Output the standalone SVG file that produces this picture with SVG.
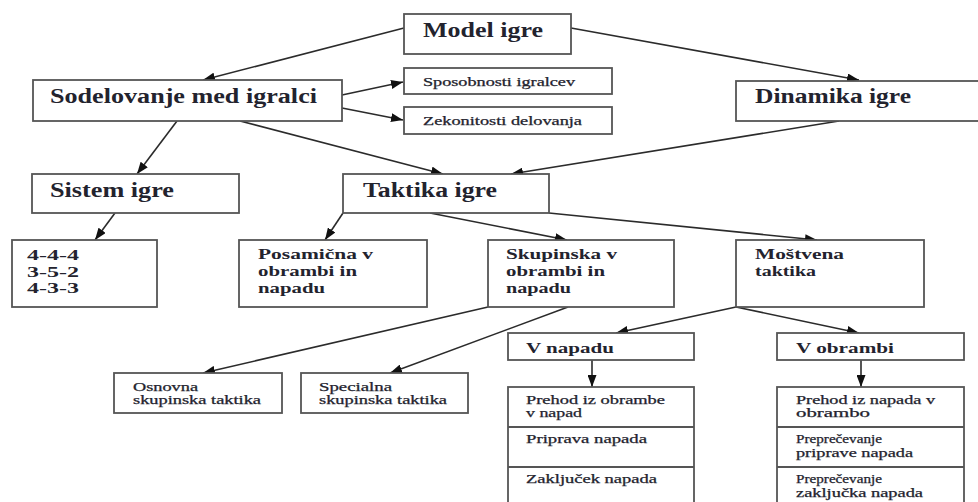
<svg xmlns="http://www.w3.org/2000/svg" width="978" height="502" viewBox="0 0 978 502" font-family="'Liberation Serif', 'DejaVu Serif', serif">
<style>
.box{fill:#fff;stroke:#555;stroke-width:1.8}
.e{fill:none;stroke:#2b2b2b;stroke-width:1.6;marker-end:url(#ah)}
text{font-family:'Liberation Serif','DejaVu Serif',serif;fill:#23232e}
.L{font-size:20px;font-weight:bold}
.M{font-size:15px;font-weight:bold}
.S{font-size:11.5px;stroke:#23232e;stroke-width:0.25}
</style>
<defs>
<marker id="ah" viewBox="0 0 12 9" markerWidth="12" markerHeight="9" refX="12" refY="4.5" orient="auto" markerUnits="userSpaceOnUse">
<path d="M0,0 L12,4.5 L0,9 z" fill="#111"/>
</marker>
</defs>
<rect width="978" height="502" fill="#fff"/>
<g id="connectors">
<line class="e" x1="404" y1="28" x2="203" y2="80"/>
<line class="e" x1="571" y1="28" x2="859" y2="80"/>
<line class="e" x1="342" y1="95" x2="403" y2="82"/>
<line class="e" x1="342" y1="108" x2="403" y2="120"/>
<line class="e" x1="177" y1="121" x2="137" y2="174"/>
<line class="e" x1="240" y1="121" x2="443" y2="174"/>
<line class="e" x1="839" y1="121" x2="511" y2="174"/>
<line class="e" x1="115" y1="213" x2="95" y2="240"/>
<line class="e" x1="343" y1="213" x2="325" y2="240"/>
<line class="e" x1="430" y1="213" x2="567" y2="240"/>
<line class="e" x1="549" y1="213" x2="817" y2="240"/>
<line class="e" x1="488" y1="307" x2="203" y2="373"/>
<line class="e" x1="568" y1="307" x2="390" y2="373"/>
<line class="e" x1="736" y1="307" x2="616" y2="333"/>
<line class="e" x1="736" y1="307" x2="859" y2="333"/>
<line class="e" x1="592" y1="360" x2="592" y2="387"/>
<line class="e" x1="861" y1="360" x2="861" y2="387"/>
</g>
<g id="model">
<rect class="box" x="404" y="14" width="167" height="40"/>
<text class="L" x="423" y="37" textLength="120" lengthAdjust="spacingAndGlyphs">Model igre</text>
</g>
<g id="sodelovanje">
<rect class="box" x="33" y="80" width="309" height="41"/>
<text class="L" x="50" y="103" textLength="267" lengthAdjust="spacingAndGlyphs">Sodelovanje med igralci</text>
</g>
<g id="sposobnosti">
<rect class="box" x="404" y="68" width="208" height="26"/>
<text class="S" x="423" y="86" textLength="152" lengthAdjust="spacingAndGlyphs">Sposobnosti igralcev</text>
</g>
<g id="zekonitosti">
<rect class="box" x="404" y="107" width="208" height="27"/>
<text class="S" x="423" y="125" textLength="159" lengthAdjust="spacingAndGlyphs">Zekonitosti delovanja</text>
</g>
<g id="dinamika">
<rect class="box" x="736" y="81" width="250" height="40"/>
<text class="L" x="755" y="103" textLength="156" lengthAdjust="spacingAndGlyphs">Dinamika igre</text>
</g>
<g id="sistem">
<rect class="box" x="32" y="174" width="207" height="39"/>
<text class="L" x="50" y="197" textLength="124" lengthAdjust="spacingAndGlyphs">Sistem igre</text>
</g>
<g id="taktika">
<rect class="box" x="343" y="174" width="206" height="39"/>
<text class="L" x="363" y="197" textLength="134" lengthAdjust="spacingAndGlyphs">Taktika igre</text>
</g>
<g id="sistemi">
<rect class="box" x="12" y="240" width="145" height="67"/>
<text class="M" x="27" y="260" textLength="52" lengthAdjust="spacingAndGlyphs">4-4-4</text>
<text class="M" x="27" y="277" textLength="52" lengthAdjust="spacingAndGlyphs">3-5-2</text>
<text class="M" x="27" y="293" textLength="52" lengthAdjust="spacingAndGlyphs">4-3-3</text>
</g>
<g id="posamicna">
<rect class="box" x="239" y="240" width="188" height="67"/>
<text class="M" x="258" y="259" textLength="115" lengthAdjust="spacingAndGlyphs">Posamična v</text>
<text class="M" x="258" y="276" textLength="99" lengthAdjust="spacingAndGlyphs">obrambi in</text>
<text class="M" x="258" y="293" textLength="67" lengthAdjust="spacingAndGlyphs">napadu</text>
</g>
<g id="skupinska">
<rect class="box" x="488" y="240" width="186" height="67"/>
<text class="M" x="506" y="259" textLength="111" lengthAdjust="spacingAndGlyphs">Skupinska v</text>
<text class="M" x="506" y="276" textLength="99" lengthAdjust="spacingAndGlyphs">obrambi in</text>
<text class="M" x="506" y="293" textLength="65" lengthAdjust="spacingAndGlyphs">napadu</text>
</g>
<g id="mostvena">
<rect class="box" x="736" y="240" width="188" height="67"/>
<text class="M" x="755" y="259" textLength="89" lengthAdjust="spacingAndGlyphs">Moštvena</text>
<text class="M" x="755" y="276" textLength="61" lengthAdjust="spacingAndGlyphs">taktika</text>
</g>
<g id="osnovna">
<rect class="box" x="114" y="373" width="168" height="40"/>
<text class="S" x="133" y="391" textLength="65" lengthAdjust="spacingAndGlyphs">Osnovna</text>
<text class="S" x="133" y="404" textLength="128" lengthAdjust="spacingAndGlyphs">skupinska taktika</text>
</g>
<g id="specialna">
<rect class="box" x="301" y="373" width="167" height="40"/>
<text class="S" x="319" y="391" textLength="73" lengthAdjust="spacingAndGlyphs">Specialna</text>
<text class="S" x="319" y="404" textLength="128" lengthAdjust="spacingAndGlyphs">skupinska taktika</text>
</g>
<g id="vnapadu">
<rect class="box" x="508" y="333" width="186" height="27"/>
<text class="M" x="526" y="353" textLength="88" lengthAdjust="spacingAndGlyphs">V napadu</text>
</g>
<g id="vobrambi">
<rect class="box" x="777" y="333" width="187" height="27"/>
<text class="M" x="796" y="353" textLength="98" lengthAdjust="spacingAndGlyphs">V obrambi</text>
</g>
<g id="napad-faze">
<rect class="box" x="508" y="387" width="186" height="125"/>
<line class="box" x1="508" y1="427" x2="694" y2="427"/>
<line class="box" x1="508" y1="467" x2="694" y2="467"/>
<text class="S" x="526" y="404" textLength="139" lengthAdjust="spacingAndGlyphs">Prehod iz obrambe</text>
<text class="S" x="526" y="417" textLength="56" lengthAdjust="spacingAndGlyphs">v napad</text>
<text class="S" x="526" y="443" textLength="121" lengthAdjust="spacingAndGlyphs">Priprava napada</text>
<text class="S" x="526" y="483" textLength="131" lengthAdjust="spacingAndGlyphs">Zaključek napada</text>
</g>
<g id="obramba-faze">
<rect class="box" x="777" y="387" width="187" height="125"/>
<line class="box" x1="777" y1="427" x2="964" y2="427"/>
<line class="box" x1="777" y1="467" x2="964" y2="467"/>
<text class="S" x="796" y="404" textLength="139" lengthAdjust="spacingAndGlyphs">Prehod iz napada v</text>
<text class="S" x="796" y="417" textLength="74" lengthAdjust="spacingAndGlyphs">obrambo</text>
<text class="S" x="796" y="443" textLength="86" lengthAdjust="spacingAndGlyphs">Preprečevanje</text>
<text class="S" x="796" y="457" textLength="117" lengthAdjust="spacingAndGlyphs">priprave napada</text>
<text class="S" x="796" y="483" textLength="86" lengthAdjust="spacingAndGlyphs">Preprečevanje</text>
<text class="S" x="796" y="497" textLength="127" lengthAdjust="spacingAndGlyphs">zaključka napada</text>
</g>
</svg>
